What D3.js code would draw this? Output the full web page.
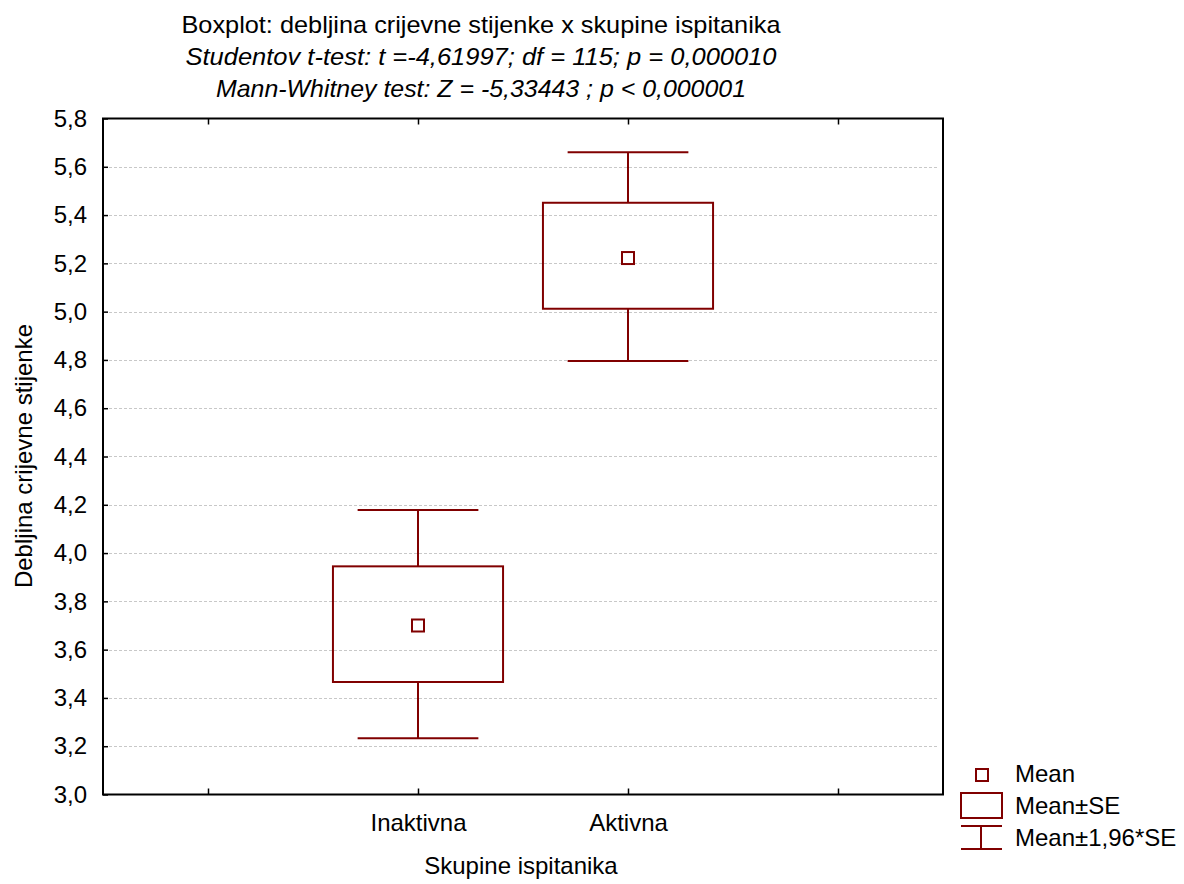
<!DOCTYPE html>
<html><head><meta charset="utf-8">
<script src="https://cdn.jsdelivr.net/npm/d3@7"></script>
<style>body{margin:0;background:#fff}svg{display:block;font-family:"Liberation Sans",Arial,sans-serif}</style>
</head><body><svg id="c" width="1184" height="884"></svg>
<script>
const categories = ["", "Inaktivna", "Aktivna", " "];
const groups = ["Inaktivna", "Aktivna"];
const means = [3.700, 5.222];
const seLow = [3.466, 5.012];
const seHigh = [3.945, 5.451];
const ciLow = [3.233, 4.796];
const ciHigh = [4.178, 5.660];
const yTicks = [3.0,3.2,3.4,3.6,3.8,4.0,4.2,4.4,4.6,4.8,5.0,5.2,5.4,5.6,5.8];
const titleLines = ["Boxplot: debljina crijevne stijenke x skupine ispitanika",
  "Studentov t-test: t =-4,61997; df = 115; p = 0,000010",
  "Mann-Whitney test: Z = -5,33443 ; p < 0,000001"];
const legendLabels = ["Mean", "Mean±SE", "Mean±1,96*SE"];

const col = "#800000";
const FS = 24;
const svg = d3.select("#c");
const L = 103, R = 943, T = 118.5, B = 794.5;
const x = d3.scalePoint().domain(categories).range([L, R]).padding(0.5);
const y = d3.scaleLinear().domain([3.0, 5.8]).range([B, T]);
const step = x.step();
const fmt = d => d.toFixed(1).replace(".", ",");

// grid
svg.append("g").selectAll("line").data(yTicks.filter(d => d > 3.0 && d < 5.8)).join("line")
  .attr("x1", L + 6).attr("x2", R - 6).attr("y1", d => Math.round(y(d)) + 0.5).attr("y2", d => Math.round(y(d)) + 0.5)
  .attr("stroke", "#c8c8c8").attr("stroke-width", 1).attr("stroke-dasharray", "3,2");

// axes
const ya = svg.append("g").attr("transform", `translate(${L},0)`)
  .call(d3.axisLeft(y).tickValues(yTicks).tickFormat(fmt).tickSizeInner(-5).tickSizeOuter(0).tickPadding(16));
ya.select(".domain").remove();
ya.selectAll("line").attr("stroke", "#000").attr("stroke-width", 1.5);
ya.selectAll("text").attr("font-size", FS).attr("fill", "#000").attr("font-family", "Liberation Sans, Arial, sans-serif");

const xa = svg.append("g").attr("transform", `translate(0,${B})`)
  .call(d3.axisBottom(x).tickSizeInner(-6).tickSizeOuter(0).tickPadding(19));
xa.select(".domain").remove();
xa.selectAll("line").attr("stroke", "#000").attr("stroke-width", 1.5);
xa.selectAll("text").attr("font-size", FS).attr("fill", "#000").attr("font-family", "Liberation Sans, Arial, sans-serif");

const xt = svg.append("g").attr("transform", `translate(0,${T})`)
  .call(d3.axisTop(x).tickSizeInner(-6).tickSizeOuter(0).tickFormat(""));
xt.select(".domain").remove();
xt.selectAll("line").attr("stroke", "#000").attr("stroke-width", 1.5);

svg.append("rect").attr("x", L).attr("y", T).attr("width", R - L).attr("height", B - T)
  .attr("fill", "none").attr("stroke", "#000").attr("stroke-width", 2);

// boxes
const bw = step * 0.81, ww = step * 0.575;
const g = svg.append("g").selectAll("g").data(groups).join("g");
g.append("line").attr("x1", (d) => x(d)).attr("x2", d => x(d))
  .attr("y1", (d, i) => y(ciHigh[i])).attr("y2", (d, i) => y(seHigh[i])).attr("stroke", col).attr("stroke-width", 2);
g.append("line").attr("x1", (d) => x(d)).attr("x2", d => x(d))
  .attr("y1", (d, i) => y(seLow[i])).attr("y2", (d, i) => y(ciLow[i])).attr("stroke", col).attr("stroke-width", 2);
g.append("line").attr("x1", d => x(d) - ww / 2).attr("x2", d => x(d) + ww / 2)
  .attr("y1", (d, i) => y(ciHigh[i])).attr("y2", (d, i) => y(ciHigh[i])).attr("stroke", col).attr("stroke-width", 2);
g.append("line").attr("x1", d => x(d) - ww / 2).attr("x2", d => x(d) + ww / 2)
  .attr("y1", (d, i) => y(ciLow[i])).attr("y2", (d, i) => y(ciLow[i])).attr("stroke", col).attr("stroke-width", 2);
g.append("rect").attr("x", d => x(d) - bw / 2).attr("width", bw)
  .attr("y", (d, i) => y(seHigh[i])).attr("height", (d, i) => y(seLow[i]) - y(seHigh[i]))
  .attr("fill", "none").attr("stroke", col).attr("stroke-width", 2);
g.append("rect").attr("x", d => x(d) - 6).attr("width", 12)
  .attr("y", (d, i) => y(means[i]) - 6).attr("height", 12)
  .attr("fill", "none").attr("stroke", col).attr("stroke-width", 2);

// titles
const tWidths = [599, 591, 530];
const tg = svg.append("g").attr("text-anchor", "middle").attr("font-size", FS).attr("fill", "#000");
titleLines.forEach((t, i) => {
  tg.append("text").attr("x", 481).attr("y", 32.5 + i * 32).text(t)
    .attr("textLength", tWidths[i]).attr("lengthAdjust", "spacingAndGlyphs")
    .attr("font-style", i === 0 ? "normal" : "italic");
});
svg.append("text").attr("x", 521).attr("y", 874).attr("text-anchor", "middle").attr("font-size", FS).text("Skupine ispitanika");
svg.append("text").attr("transform", "translate(32,456) rotate(-90)").attr("text-anchor", "middle").attr("font-size", FS).text("Debljina crijevne stijenke");

// legend
const lg = svg.append("g");
lg.append("rect").attr("x", 976).attr("y", 769).attr("width", 12).attr("height", 12).attr("fill", "none").attr("stroke", col).attr("stroke-width", 2);
lg.append("rect").attr("x", 961).attr("y", 793).attr("width", 41).attr("height", 25).attr("fill", "none").attr("stroke", col).attr("stroke-width", 2);
lg.append("line").attr("x1", 961).attr("x2", 1002).attr("y1", 826).attr("y2", 826).attr("stroke", col).attr("stroke-width", 2);
lg.append("line").attr("x1", 961).attr("x2", 1002).attr("y1", 849).attr("y2", 849).attr("stroke", col).attr("stroke-width", 2);
lg.append("line").attr("x1", 981).attr("x2", 981).attr("y1", 826).attr("y2", 849).attr("stroke", col).attr("stroke-width", 2);
lg.selectAll("text").data(legendLabels).join("text")
  .attr("x", 1015).attr("y", (d, i) => 782 + i * 32).attr("font-size", FS).text(d => d);
</script></body></html>
